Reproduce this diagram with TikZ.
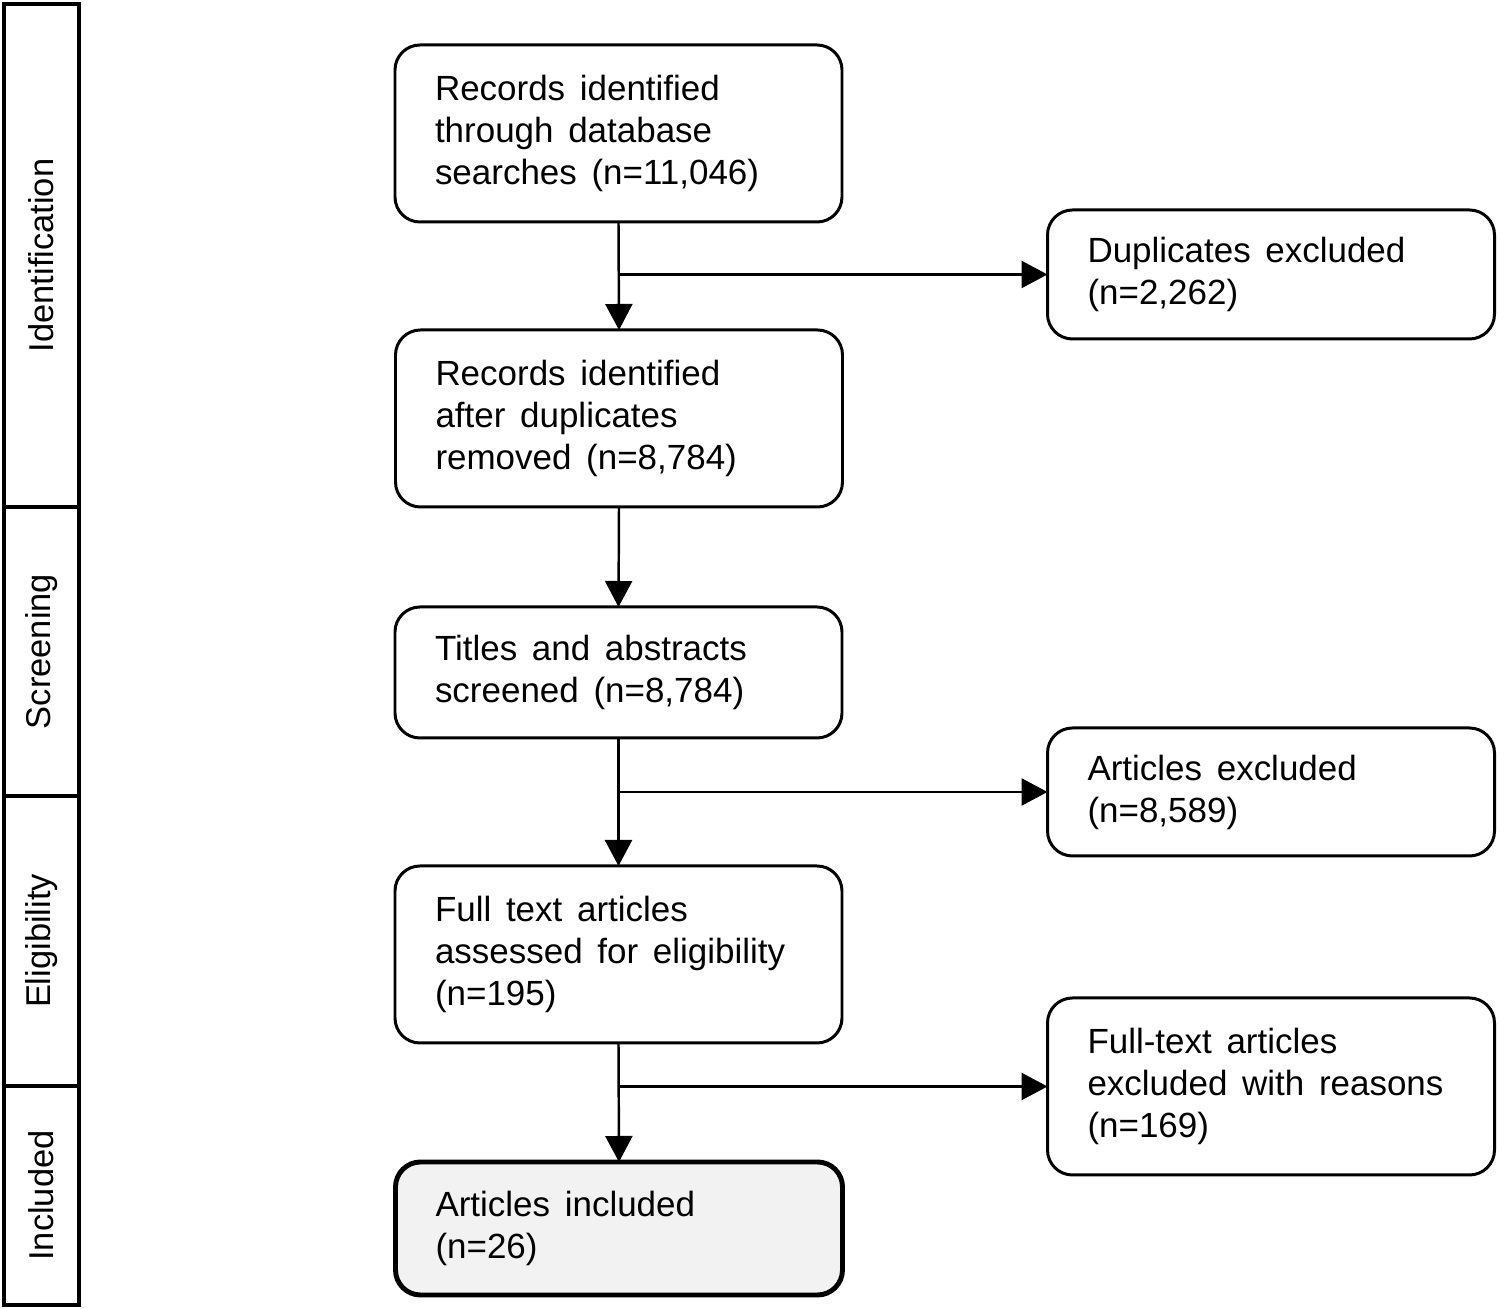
\documentclass[tikz,border=0pt]{standalone}
\usepackage{fontspec}
\setmainfont{Liberation Sans}
\usetikzlibrary{arrows.meta}
\newcommand{\wideSpaces}{\spaceskip=0.42em plus 0.1em\relax}
\begin{document}
\begin{tikzpicture}[
  txt/.style={font=\fontsize{9.95}{11.95}\selectfont, execute at begin node=\wideSpaces},
  box/.style={txt, draw, line width=0.85pt, rounded corners=0.25cm, text width=3.67cm, inner xsep=0.4cm, inner ysep=0pt, align=left, outer sep=0pt},
  stage/.style={draw, line width=1.1pt, rotate=90, minimum height=0.75cm, inner sep=0pt, outer sep=0pt, font=\fontsize{9.8}{12}\selectfont},
  arr/.style={line width=0.7pt, -{Triangle[length=0.26cm,width=0.27cm]}}
]
\useasboundingbox (0,0) rectangle (15,-13.09);
% stage column
\node[stage, minimum width=5.03cm] (s1) at (0.415,-2.555) {Identification};
\node[stage, minimum width=2.89cm] (s2) at (0.415,-6.515) {Screening};
\node[stage, minimum width=2.90cm] (s3) at (0.415,-9.41) {Eligibility};
\node[stage, minimum width=2.19cm] (s4) at (0.415,-11.955) {Included};
% main boxes
\node[box, minimum height=1.77cm] (b1) at (6.185,-1.335) {Records identified\\through database\\searches (n=11,046)};
\node[box, minimum height=1.77cm] (b2) at (6.19,-4.185) {Records identified\\after duplicates\\removed (n=8,784)};
\node[box, minimum height=1.31cm] (b3) at (6.185,-6.725) {Titles and abstracts\\screened (n=8,784)};
\node[box, minimum height=1.77cm] (b4) at (6.185,-9.545) {Full text articles\\assessed for eligibility\\(n=195)};
\node[box, minimum height=1.33cm, line width=1.4pt, fill={rgb,255:red,242;green,242;blue,242}] (b5) at (6.19,-12.285) {Articles included\\(n=26)};
% right boxes
\node[box, minimum height=1.29cm] (r1) at (12.71,-2.745) {Duplicates excluded\\(n=2,262)};
\node[box, minimum height=1.28cm] (r2) at (12.71,-7.92) {Articles excluded\\(n=8,589)};
\node[box, minimum height=1.77cm] (r3) at (12.71,-10.865) {Full-text articles\\excluded with reasons\\(n=169)};
% connectors
\draw[arr] (b1.south) -- (b2.north);
\draw[arr] (b2.south) -- (b3.north);
\draw[arr] (b3.south) -- (b4.north);
\draw[arr] (b4.south) -- (b5.north);
\coordinate (j1) at (b1.south |- r1.west);
\coordinate (j2) at (b3.south |- r2.west);
\coordinate (j3) at (b4.south |- r3.west);
\draw[arr] (j1) -- (r1.west);
\draw[arr] (j2) -- (r2.west);
\draw[arr] (j3) -- (r3.west);
\end{tikzpicture}
\end{document}
